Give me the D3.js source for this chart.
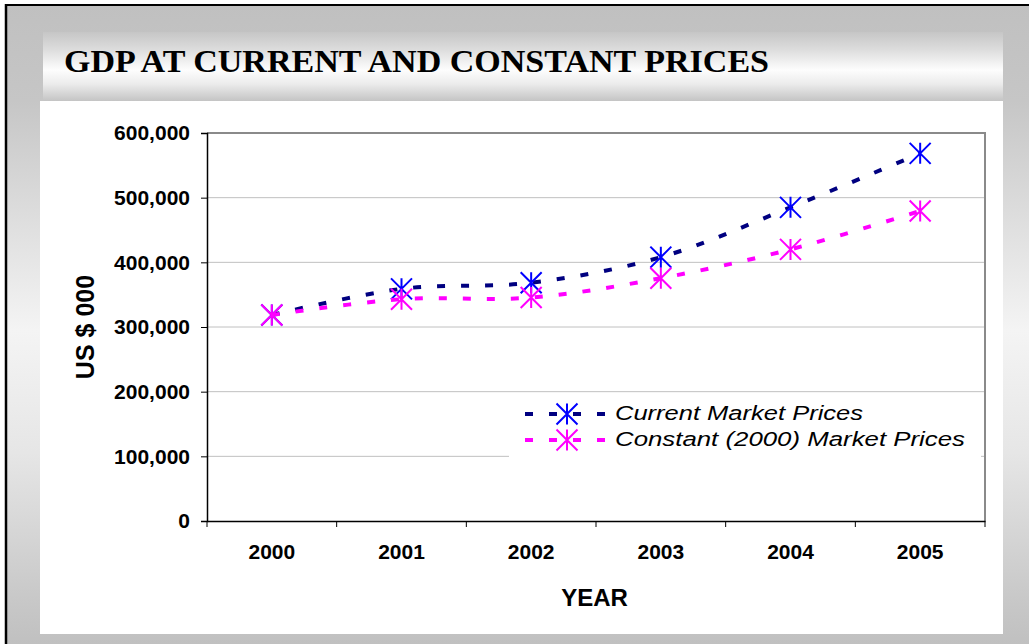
<!DOCTYPE html>
<html>
<head>
<meta charset="utf-8">
<script src="https://cdn.jsdelivr.net/npm/d3@7"></script>
<style>
  html, body { margin: 0; padding: 0; background: #fff; }
  svg { display: block; }
</style>
</head>
<body>
<svg id="chart" width="1029" height="644"></svg>
<script>
// ---- data ----
const years = ["2000", "2001", "2002", "2003", "2004", "2005"];
const currentPrices = [318500, 359000, 368500, 408000, 485000, 568500];
const constantPrices = [318500, 343000, 345500, 375500, 420000, 479500];
const yTicks = [0, 100000, 200000, 300000, 400000, 500000, 600000];
const seriesNames = ["Current Market Prices", "Constant (2000) Market Prices"];
const titleText = "GDP AT CURRENT AND CONSTANT PRICES";
const yTitle = "US $ 000";
const xTitle = "YEAR";

const svg = d3.select("#chart");
const defs = svg.append("defs");

// background gradient
const bg = defs.append("linearGradient").attr("id", "bgGrad")
  .attr("x1", 0).attr("y1", 0).attr("x2", 0).attr("y2", 1);
[[0, "#c0c0c0"], [0.15, "#c6c6c6"], [0.51, "#f4f4f4"], [0.7, "#e6e6e6"], [0.93, "#c8c8c8"], [1, "#c0c0c0"]]
  .forEach(([o, c]) => bg.append("stop").attr("offset", o).attr("stop-color", c));

const tg = defs.append("linearGradient").attr("id", "titleGrad")
  .attr("x1", 0).attr("y1", 0).attr("x2", 0).attr("y2", 1);
[[0, "#c6c6c6"], [0.25, "#dcdcdc"], [0.55, "#fdfdfd"], [0.75, "#ececec"], [1, "#c4c4c4"]]
  .forEach(([o, c]) => tg.append("stop").attr("offset", o).attr("stop-color", c));

svg.append("rect").attr("x", 0).attr("y", 0).attr("width", 1029).attr("height", 644).attr("fill", "#fff");
svg.append("rect").attr("x", 6).attr("y", 5).attr("width", 1023).attr("height", 639).attr("fill", "url(#bgGrad)");
// frame lines
svg.append("line").attr("x1", 6).attr("x2", 6).attr("y1", 4).attr("y2", 644).attr("stroke", "#000").attr("stroke-width", 2.5);
svg.append("line").attr("x1", 5).attr("x2", 1029).attr("y1", 5).attr("y2", 5).attr("stroke", "#000").attr("stroke-width", 2);

// title band
svg.append("rect").attr("x", 43).attr("y", 32).attr("width", 960).attr("height", 69).attr("fill", "url(#titleGrad)");
svg.append("text").attr("x", 64).attr("y", 72)
  .attr("font-family", "'Liberation Serif', 'DejaVu Serif', serif")
  .attr("font-weight", "bold").attr("font-size", 32)
  .attr("textLength", 705).attr("lengthAdjust", "spacingAndGlyphs")
  .attr("fill", "#000").text(titleText);

// white panel
svg.append("rect").attr("x", 40).attr("y", 101).attr("width", 963).attr("height", 533).attr("fill", "#fff");

// ---- scales ----
const x = d3.scaleBand().domain(years).range([207, 985]);
const y = d3.scaleLinear().domain([0, 600000]).range([521, 133]);
const cx = d => x(d) + x.bandwidth() / 2;

// gridlines
svg.append("g").selectAll("line").data(yTicks.filter(t => t > 0 && t < 600000)).join("line")
  .attr("x1", 207).attr("x2", 985).attr("y1", d => y(d)).attr("y2", d => y(d))
  .attr("stroke", "#c0c0c0").attr("stroke-width", 1);

// plot border (top & right)
svg.append("path")
  .attr("d", `M${x.range()[0]},${y(600000)}H${x.range()[1]}V${y(0)}`)
  .attr("fill", "none").attr("stroke", "#8a8a8a").attr("stroke-width", 2);

// y axis
const yAxis = svg.append("g").attr("transform", `translate(207,0)`)
  .call(d3.axisLeft(y).tickValues(yTicks).tickFormat(d3.format(",")).tickSize(6).tickPadding(11));
yAxis.select(".domain").attr("stroke", "#000").attr("stroke-width", 1.5);
yAxis.selectAll(".tick line").attr("stroke", "#000");
yAxis.selectAll("text").attr("font-family", "'Liberation Sans', Arial, sans-serif")
  .attr("font-weight", "bold").attr("font-size", 21).attr("fill", "#000");

// x axis labels
const xAxis = svg.append("g").attr("transform", `translate(0,${y(0)})`)
  .call(d3.axisBottom(x).tickSize(0).tickPadding(23));
xAxis.select(".domain").attr("stroke", "#000").attr("stroke-width", 1.5);
xAxis.selectAll("text").attr("font-family", "'Liberation Sans', Arial, sans-serif")
  .attr("font-weight", "bold").attr("font-size", 21).attr("fill", "#000");
// boundary ticks
const bounds = years.map(d => x(d)).concat([x.range()[1]]);
svg.append("g").selectAll("line").data(bounds).join("line")
  .attr("x1", d => d).attr("x2", d => d).attr("y1", y(0)).attr("y2", y(0) + 6)
  .attr("stroke", "#000").attr("stroke-width", 1);

// axis titles
svg.append("text").attr("transform", `translate(85,327) rotate(-90)`)
  .attr("text-anchor", "middle").attr("dy", "0.36em")
  .attr("font-family", "'Liberation Sans', Arial, sans-serif")
  .attr("font-weight", "bold").attr("font-size", 25).attr("fill", "#000").text(yTitle);
svg.append("text").attr("x", 594.5).attr("y", 605.5)
  .attr("text-anchor", "middle")
  .attr("font-family", "'Liberation Sans', Arial, sans-serif")
  .attr("font-weight", "bold").attr("font-size", 24).attr("fill", "#000").text(xTitle);

// ---- series ----
const starSymbol = {
  draw(ctx, size) {
    const r = Math.sqrt(size) / 2;
    ctx.moveTo(0, -r); ctx.lineTo(0, r);
    ctx.moveTo(-r, -r); ctx.lineTo(r, r);
    ctx.moveTo(-r, r); ctx.lineTo(r, -r);
  }
};
const starPath = d3.symbol().type(starSymbol).size(21 * 21)();

const series = [
  { name: seriesNames[0], values: currentPrices, line: "#000080", marker: "#0000ff" },
  { name: seriesNames[1], values: constantPrices, line: "#ff00ff", marker: "#ff00ff" }
];

const lineGen = d3.line()
  .x((d, i) => cx(years[i]))
  .y(d => y(d))
  .curve(d3.curveCatmullRom.alpha(0.5));

// legend box sits over gridlines
svg.append("rect").attr("x", 509).attr("y", 395).attr("width", 472).attr("height", 68).attr("fill", "#fff");

// series in order: current first, constant drawn on top
series.forEach(s => {
  svg.append("path").datum(s.values)
    .attr("d", lineGen)
    .attr("fill", "none").attr("stroke", s.line).attr("stroke-width", 4)
    .attr("stroke-dasharray", "8,16");
  svg.append("g").selectAll("path").data(s.values).join("path")
    .attr("d", starPath)
    .attr("transform", (d, i) => `translate(${cx(years[i])},${y(d)})`)
    .attr("fill", "none").attr("stroke", s.marker).attr("stroke-width", 2);
});

// legend
const legendRows = [
  { s: series[0], ly: 414, ty: 419.5, len: 248 },
  { s: series[1], ly: 440, ty: 445.5, len: 350 }
];
legendRows.forEach(r => {
  svg.append("line").attr("x1", 525).attr("x2", 606).attr("y1", r.ly).attr("y2", r.ly)
    .attr("stroke", r.s.line).attr("stroke-width", 4).attr("stroke-dasharray", "8,16");
  svg.append("path").attr("d", starPath).attr("transform", `translate(567,${r.ly})`)
    .attr("fill", "none").attr("stroke", r.s.marker).attr("stroke-width", 2);
  svg.append("text").attr("x", 615).attr("y", r.ty)
    .attr("font-family", "'Liberation Sans', Arial, sans-serif")
    .attr("font-style", "italic").attr("font-size", 20)
    .attr("textLength", r.len).attr("lengthAdjust", "spacingAndGlyphs")
    .attr("fill", "#000").text(r.s.name);
});
</script>
</body>
</html>
